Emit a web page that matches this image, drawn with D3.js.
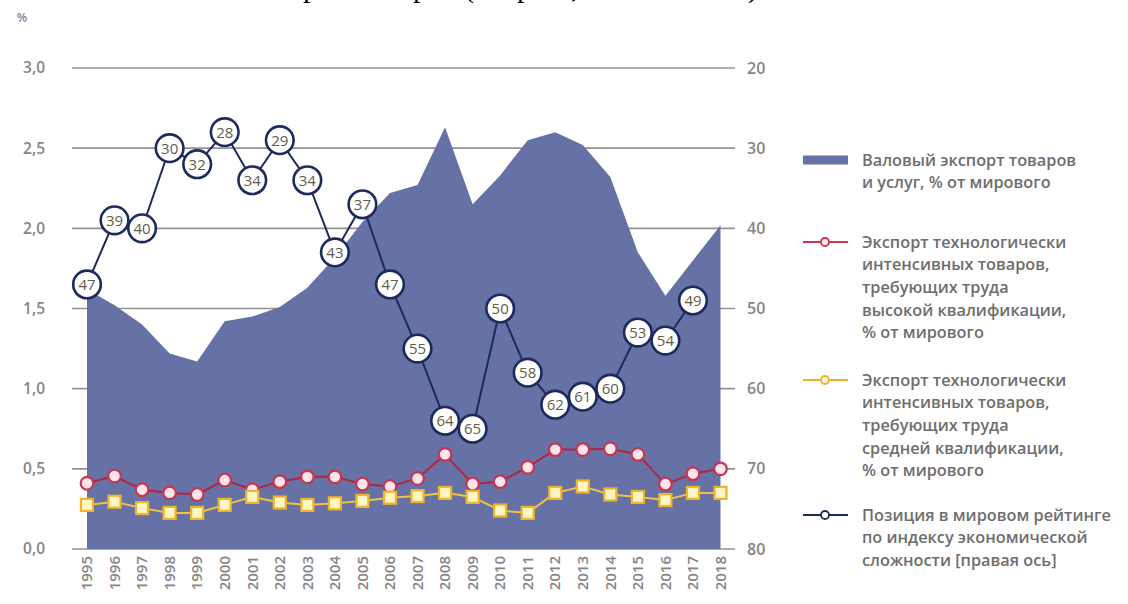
<!DOCTYPE html>
<html><head><meta charset="utf-8">
<script src="https://cdn.jsdelivr.net/npm/d3@7"></script>
<style>
html,body{margin:0;padding:0;background:#fff;}
svg{display:block;}
</style></head>
<body>
<svg id="chart" width="1128" height="604"></svg>
<script>
// ---- data ----
const years = [1995,1996,1997,1998,1999,2000,2001,2002,2003,2004,2005,2006,2007,2008,2009,2010,2011,2012,2013,2014,2015,2016,2017,2018];
const grossExport = [1.62,1.52,1.40,1.22,1.17,1.42,1.45,1.51,1.63,1.82,2.04,2.22,2.27,2.63,2.15,2.33,2.55,2.60,2.52,2.32,1.85,1.58,1.80,2.02];
const highSkill = [0.41,0.455,0.37,0.35,0.34,0.43,0.37,0.42,0.45,0.45,0.405,0.39,0.44,0.59,0.405,0.42,0.51,0.62,0.62,0.625,0.59,0.405,0.47,0.50];
const midSkill = [0.275,0.295,0.255,0.225,0.225,0.275,0.325,0.29,0.275,0.285,0.30,0.32,0.33,0.35,0.325,0.24,0.225,0.35,0.39,0.34,0.325,0.305,0.35,0.35];
const rank = [47,39,40,30,32,28,34,29,34,43,37,47,55,64,65,50,58,62,61,60,53,54,49,null];
const leftTicks = [0,0.5,1.0,1.5,2.0,2.5,3.0];
const leftTickLabels = ["0,0","0,5","1,0","1,5","2,0","2,5","3,0"];
const rightTicks = [20,30,40,50,60,70,80];
const legendItems = [
  {kind:"area", lines:["Валовый экспорт товаров","и услуг, % от мирового"]},
  {kind:"high", lines:["Экспорт технологически","интенсивных товаров,","требующих труда","высокой квалификации,","% от мирового"]},
  {kind:"mid", lines:["Экспорт технологически","интенсивных товаров,","требующих труда","средней квалификации,","% от мирового"]},
  {kind:"rank", lines:["Позиция в мировом рейтинге","по индексу экономической","сложности [правая ось]"]}
];
const titleFragments = ["р","р","(","р",",",")"];

// ---- styles ----
const C = {
  area:"#6671a6", grid:"#939393", label:"#858585",
  red:"#b3243f", redStroke:"#c83552", redFill:"#fde6eb",
  yel:"#f3c047", yelStroke:"#f0b429", yelFill:"#fff6c4",
  navy:"#1d2a5c", num:"#625c4c", legend:"#6e6e6e"
};
const FONT = "'Open Sans', 'DejaVu Sans', sans-serif";

const svg = d3.select("#chart");
const x = d3.scaleLinear().domain([1995,2018]).range([87,720.5]);
const yL = d3.scaleLinear().domain([0,3]).range([549,68]);
const yR = d3.scaleLinear().domain([20,80]).range([68,549]);

// cropped title fragments at top (the reference's title is cut off by the frame)
const titleX = [303,413,464,517,571,748];
svg.append("text").attr("y",-3).attr("font-family","'Liberation Serif', serif").attr("font-size",30).attr("fill","#000")
  .selectAll("tspan").data(titleFragments).join("tspan")
  .attr("x",(d,i)=>titleX[i]).text(d=>d);

// "%"
svg.append("text").attr("x",22).attr("y",18).attr("dy","0.35em").attr("text-anchor","middle")
  .attr("font-family",FONT).attr("font-size",12).attr("font-weight",600).attr("fill",C.label).text("%");

// gridlines (extend as ticks on both sides)
svg.append("g").selectAll("line").data(leftTicks).join("line")
  .attr("x1",72).attr("x2",735).attr("y1",d=>yL(d)).attr("y2",d=>yL(d))
  .attr("stroke",C.grid).attr("stroke-width",1.6);

// left axis labels
svg.append("g").selectAll("text").data(leftTicks).join("text")
  .attr("x",45).attr("y",d=>yL(d)).attr("dy","0.35em").attr("text-anchor","end")
  .attr("font-family",FONT).attr("font-size",15.5).attr("font-weight",600).attr("fill",C.label)
  .text((d,i)=>leftTickLabels[i]);

// right axis labels
svg.append("g").selectAll("text").data(rightTicks).join("text")
  .attr("x",747).attr("y",d=>yR(d)).attr("dy","0.35em").attr("text-anchor","start")
  .attr("font-family",FONT).attr("font-size",16).attr("font-weight",600).attr("fill",C.label)
  .text(d=>d);

// area
const area = d3.area().x((d,i)=>x(years[i])).y0(yL(0)).y1(d=>yL(d));
svg.append("path").datum(grossExport).attr("d",area).attr("fill",C.area);

// year labels
svg.append("g").selectAll("text").data(years).join("text")
  .attr("transform",d=>`translate(${x(d)},556) rotate(-90)`)
  .attr("dy","0.35em").attr("text-anchor","end")
  .attr("font-family",FONT).attr("font-size",15).attr("font-weight",600).attr("fill",C.label)
  .text(d=>d);

// high-skill line
const lineL = d3.line().x((d,i)=>x(years[i])).y(d=>yL(d));
svg.append("path").datum(highSkill).attr("d",lineL).attr("fill","none").attr("stroke",C.red).attr("stroke-width",2);
svg.append("g").selectAll("circle").data(highSkill).join("circle")
  .attr("cx",(d,i)=>x(years[i])).attr("cy",d=>yL(d)).attr("r",6.3)
  .attr("fill",C.redFill).attr("stroke",C.redStroke).attr("stroke-width",2.2);

// mid-skill line
svg.append("path").datum(midSkill).attr("d",lineL).attr("fill","none").attr("stroke",C.yel).attr("stroke-width",2);
svg.append("g").selectAll("rect").data(midSkill).join("rect")
  .attr("x",(d,i)=>x(years[i])-6).attr("y",d=>yL(d)-6).attr("width",12).attr("height",12)
  .attr("fill",C.yelFill).attr("stroke",C.yelStroke).attr("stroke-width",2.2);

// rank line
const rankPts = rank.map((r,i)=>({year:years[i],r})).filter(d=>d.r!=null);
const lineR = d3.line().x(d=>x(d.year)).y(d=>yR(d.r));
svg.append("path").datum(rankPts).attr("d",lineR).attr("fill","none").attr("stroke",C.navy).attr("stroke-width",2);
const rg = svg.append("g").selectAll("g").data(rankPts).join("g")
  .attr("transform",d=>`translate(${x(d.year)},${yR(d.r)})`);
rg.append("circle").attr("r",13.8).attr("fill","#fff").attr("stroke",C.navy).attr("stroke-width",2.6);
rg.append("text").attr("dy","0.36em").attr("text-anchor","middle")
  .attr("font-family",FONT).attr("font-size",15).attr("font-weight",500).attr("fill",C.num)
  .text(d=>d.r);

// legend
const legY = [160,242,380,515];
const lineGap = 22.6;
const lg = svg.append("g").selectAll("g").data(legendItems).join("g")
  .attr("transform",(d,i)=>`translate(0,${legY[i]})`);
lg.each(function(d){
  const g = d3.select(this);
  if(d.kind==="area"){
    g.append("rect").attr("x",803).attr("y",-4.5).attr("width",45).attr("height",9).attr("fill",C.area);
  } else {
    const col = d.kind==="high"?C.redStroke:(d.kind==="mid"?C.yelStroke:C.navy);
    const fill = d.kind==="high"?C.redFill:(d.kind==="mid"?C.yelFill:"#fff");
    g.append("line").attr("x1",803).attr("x2",848).attr("y1",0).attr("y2",0).attr("stroke",col).attr("stroke-width",1.8);
    g.append("circle").attr("cx",825).attr("cy",0).attr("r",4).attr("fill",fill).attr("stroke",col).attr("stroke-width",1.8);
  }
  g.selectAll("text").data(d.lines).join("text")
    .attr("x",862).attr("y",(t,j)=>j*lineGap).attr("dy","0.35em")
    .attr("font-family",FONT).attr("font-size",16.3).attr("font-weight",600).attr("fill",C.legend)
    .text(t=>t);
});
</script>
</body></html>
